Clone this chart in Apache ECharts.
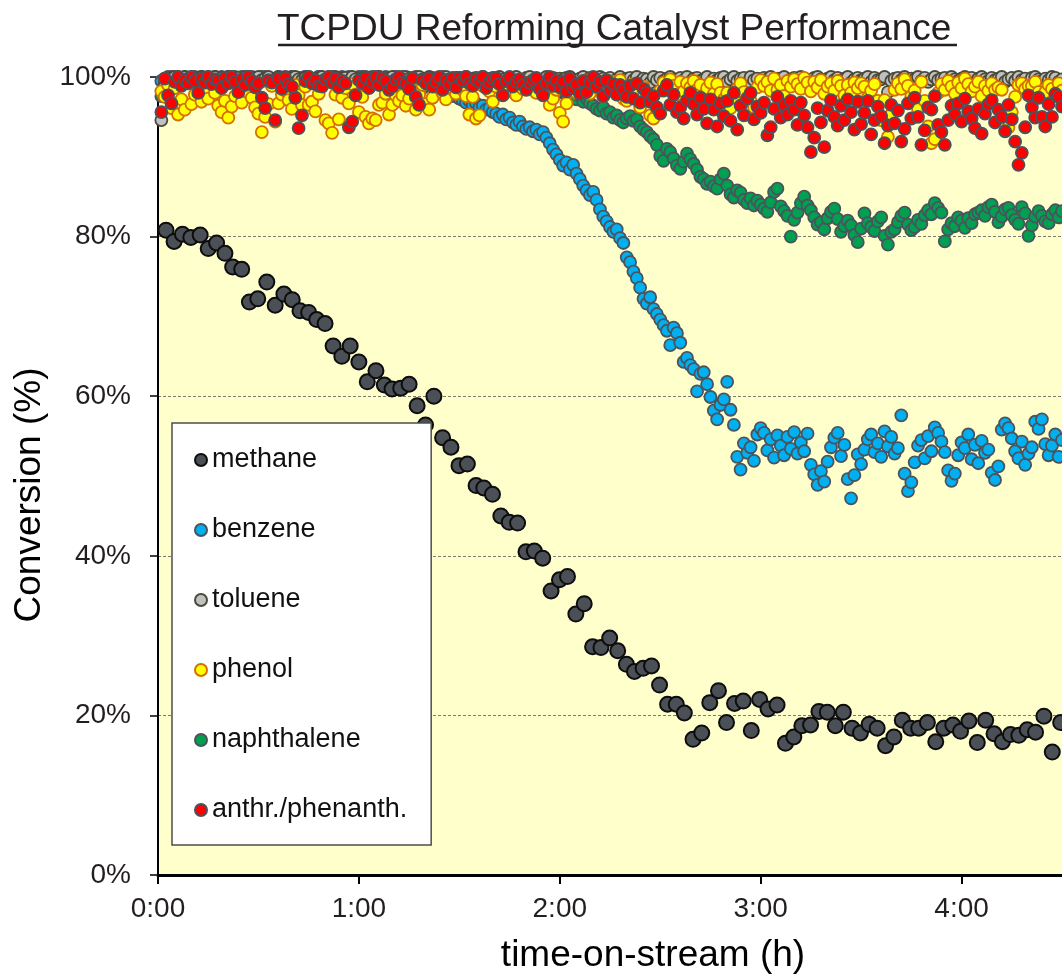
<!DOCTYPE html>
<html>
<head>
<meta charset="utf-8">
<script src="https://cdn.jsdelivr.net/npm/echarts@6/dist/echarts.min.js"></script>
<style>
html,body{margin:0;padding:0;background:#fff;}
#chart{width:1062px;height:980px;}
</style>
</head>
<body>
<div id="chart"></div>
<script>
// ---- DATA ----
const chartTitle = 'TCPDU Reforming Catalyst Performance';
const xAxisTitle = 'time-on-stream (h)';
const yAxisTitle = 'Conversion (%)';
const seriesNames = ['methane', 'benzene', 'toluene', 'phenol', 'naphthalene', 'anthr./phenanth.'];
const xTickMinutes = [0, 60, 120, 180, 240];

// methane (separate analyser): time in minutes, conversion in %
const methaneTime = [2.4,4.8,7.3,9.8,12.6,15.0,17.5,20.0,22.3,25.0,27.3,29.8,32.5,35.0,37.6,40.1,42.4,45.0,47.4,49.9,
  52.3,54.9,57.4,60.0,62.5,65.1,67.6,69.9,72.5,75.0,77.4,79.9,82.4,85.0,87.5,89.9,92.4,95.0,97.3,99.9,
  102.4,104.9,107.4,109.9,112.4,114.9,117.4,119.9,122.3,124.8,127.3,129.8,132.3,134.9,137.3,139.9,142.3,144.9,147.4,149.8,
  152.2,154.8,157.2,159.8,162.4,164.8,167.4,169.8,172.2,174.8,177.2,179.7,182.2,184.9,187.4,189.9,192.3,194.9,197.4,199.9,
  202.3,204.7,207.3,209.8,212.4,214.8,217.3,219.8,222.3,224.8,227.2,229.8,232.3,234.7,237.4,239.7,242.2,244.7,247.2,249.7,
  252.2,254.6,257.1,259.6,262.1,264.6,267.1,269.6];
const methaneValue = [80.8,79.4,80.3,79.9,80.2,78.5,79.2,77.9,76.2,75.9,71.8,72.2,74.3,71.4,72.8,72.1,70.7,70.5,69.6,69.1,
  66.3,65.0,66.3,64.3,61.8,63.2,61.4,60.9,61.0,61.5,58.8,56.4,60.0,54.8,53.6,51.3,51.5,48.8,48.5,47.7,
  45.0,44.2,44.1,40.5,40.6,39.7,35.6,37.0,37.4,32.7,34.0,28.6,28.5,29.7,28.1,26.4,25.5,25.9,26.2,23.8,
  21.4,21.4,20.3,17.0,17.8,21.6,23.1,19.1,21.5,21.8,18.1,22.0,20.8,21.3,16.5,17.3,18.7,18.8,20.5,20.4,
  18.7,20.4,18.4,17.8,18.9,18.4,16.2,17.3,19.4,18.4,18.4,19.1,16.7,18.4,18.8,18.0,19.3,16.6,19.4,17.7,
  16.7,17.6,17.5,18.2,17.9,19.9,15.4,19.1];

// tar compounds (GC): one sample per minute starting at minute 1
const gcSampleStartMin = 1;
const gcSampleStepMin = 1;

const benzene = [
  99.5,99.8,100,99.3,99.7,100,99.6,99.9,99.4,100,
  99.8,99.5,100,99.7,99.2,99.9,100,99.6,99.8,99.4,
  100,99.7,99.5,99.9,100,99.3,99.8,100,99.6,99.9,
  99.7,100,99.4,99.8,99.6,100,99.9,99.5,99.8,100,
  99.6,99.9,99.3,100,99.7,99.8,99.5,100,99.9,99.6,
  100,99.4,99.8,99.7,100,99.5,99.9,99.8,99.6,100,
  99.7,99.9,99.4,100,99.8,99.5,99.9,100,99.6,99.8,
  99.5,99.9,100,99.3,99.7,99.8,99.4,99.6,99.2,99.5,
  99.2,98.9,99.0,98.6,98.4,98.1,97.9,97.6,97.8,97.3,
  97.1,96.8,97.0,96.5,96.7,96.2,96.4,95.9,96.1,95.6,
  95.4,95.0,95.3,94.7,94.9,94.3,94.0,94.4,93.8,93.5,
  93.7,93.2,93.4,92.8,93.1,92.4,91.7,90.9,90.3,89.6,
  88.9,89.3,88.4,89.0,87.9,87.2,86.4,85.8,85.2,85.6,
  84.6,83.4,82.5,81.9,81.2,80.6,80.9,79.8,79.2,77.4,
  76.8,75.6,74.8,73.6,72.2,71.6,72.4,70.9,70.3,69.6,
  68.9,68.2,66.4,68.6,67.9,66.7,64.3,64.8,63.9,63.4,
  60.6,62.8,63.0,61.5,59.9,58.2,57.1,58.9,59.6,61.8,
  58.3,56.4,52.4,50.8,54.1,52.9,53.6,51.9,55.2,56.0,
  55.4,53.2,54.6,52.3,55.1,53.8,52.6,54.9,53.4,55.5,
  52.8,54.2,53.1,55.3,51.4,50.2,48.9,50.6,49.3,51.8,
  53.6,54.8,55.4,52.5,53.9,49.6,47.2,50.1,52.7,51.5,
  53.3,54.6,55.2,53.0,54.1,52.4,55.6,53.7,54.9,52.8,
  53.5,57.6,50.3,48.1,49.2,51.7,53.8,54.5,52.2,55.0,
  53.1,56.1,55.4,54.3,53.0,50.7,49.4,50.3,52.6,54.2,
  53.5,55.2,52.1,53.9,51.6,54.4,52.9,53.3,50.4,49.5,
  51.2,55.8,56.6,56.0,54.7,53.1,52.2,54.3,51.4,52.8,
  53.6,56.8,55.9,57.1,54.0,52.6,53.8,55.2,52.4,54.5];

const toluene = [
  94.6,98.9,99.6,99.9,100,99.7,99.5,100,99.8,99.4,
  99.9,99.6,100,99.3,99.8,99.7,100,99.5,99.9,99.6,
  100,99.4,99.8,99.9,99.5,100,99.7,99.3,99.9,100,
  99.6,99.8,100,99.2,99.7,99.9,99.5,100,99.8,99.4,
  100,99.7,99.6,99.9,100,99.3,99.8,99.5,100,99.7,
  99.9,99.4,100,99.6,99.8,99.9,99.5,100,99.7,99.3,
  99.8,100,99.6,99.9,99.4,100,99.7,99.8,99.5,100,
  99.6,99.9,99.3,100,99.8,99.5,99.9,100,99.7,99.4,
  100,99.8,99.6,99.9,99.5,100,99.7,99.3,99.9,99.8,
  99.6,100,99.4,99.7,99.9,99.5,100,99.8,99.6,99.9,
  99.3,100,99.7,99.5,99.9,99.8,100,99.4,99.6,99.9,
  100,99.5,99.8,99.2,99.7,100,99.6,99.9,99.4,99.8,
  99.7,99.9,100,99.3,99.6,99.8,100,99.5,99.9,99.7,
  99.4,100,99.8,99.6,99.9,99.2,99.7,100,99.5,99.8,
  99.9,99.6,100,99.4,99.8,99.7,99.3,100,99.6,99.9,
  99.5,99.8,100,99.7,99.2,99.9,99.6,100,99.4,99.8,
  99.9,99.5,99.7,100,99.3,99.8,99.6,99.9,100,99.4,
  99.7,100,99.5,99.8,99.9,99.3,100,99.6,99.8,99.5,
  99.9,99.7,100,99.4,99.8,99.6,100,99.2,99.7,99.9,
  99.5,100,99.8,99.6,99.3,99.9,100,99.7,99.4,99.8,
  100,99.6,99.9,99.5,99.8,100,99.3,99.7,99.9,99.6,
  99.8,100,99.4,99.9,99.6,99.7,100,98.1,99.5,99.8,
  99.9,99.6,100,99.3,99.8,99.7,100,99.5,99.9,99.4,
  99.7,100,99.6,99.8,99.9,99.4,100,99.7,99.5,99.8,
  100,99.6,99.9,99.3,99.8,100,99.7,99.5,99.9,99.6,
  99.8,100,99.4,99.7,99.9,99.5,100,99.6,99.8,99.3,
  99.9,100,99.7,99.5,99.8,99.6,100,99.9,99.4,99.7];

const phenol = [
  98.2,97.5,99.0,96.1,98.6,95.3,97.2,95.9,99.3,96.6,
  97.8,99.1,96.9,98.4,97.3,99.5,98.0,96.4,95.6,97.0,
  94.9,96.3,97.6,98.7,96.8,99.2,98.1,97.4,96.2,95.4,
  93.1,95.0,96.6,98.9,94.4,96.7,97.8,98.3,97.1,96.0,
  99.0,97.7,96.5,98.8,96.5,96.9,95.7,97.9,99.2,94.6,
  94.2,93.0,97.8,94.7,97.4,98.6,96.7,99.1,97.8,95.6,
  97.5,95.0,94.2,94.8,94.6,96.5,96.8,97.9,95.3,96.5,
  97.7,97.0,97.7,96.4,97.3,99.6,95.9,97.8,99.0,96.6,
  95.9,97.4,98.8,99.3,98.0,97.2,99.5,98.6,97.9,99.1,
  98.4,97.6,95.3,97.5,94.8,95.2,98.9,99.4,98.2,96.9,
  98.8,99.2,97.9,98.6,99.5,98.1,97.7,99.0,98.5,99.3,
  98.7,99.4,98.0,99.1,97.8,98.9,96.5,97.3,98.4,95.5,
  94.4,96.7,98.2,99.0,98.0,99.3,98.6,99.5,97.9,98.8,
  99.2,98.4,97.6,99.0,98.7,99.4,98.1,99.6,97.3,97.0,
  98.5,99.1,97.8,96.2,98.8,97.2,95.2,94.8,96.0,98.3,
  99.3,98.6,99.7,98.9,97.8,99.4,98.2,99.2,98.7,99.5,
  98.4,99.0,97.7,98.6,99.3,97.9,99.1,98.0,97.2,98.0,
  96.1,97.4,98.5,99.2,98.1,97.4,97.0,96.2,98.7,99.6,
  98.9,99.4,98.3,99.8,98.4,99.0,97.6,99.5,98.8,99.7,
  99.1,98.5,99.9,99.3,98.2,99.4,98.7,99.6,97.9,98.8,
  99.2,98.3,99.5,98.9,97.7,99.0,98.0,99.3,98.6,99.2,
  98.8,97.4,98.3,99.1,97.0,94.6,97.1,92.5,95.3,98.4,
  99.2,98.5,99.7,98.9,97.6,98.3,96.0,99.4,97.0,93.8,
  91.7,92.2,98.0,99.1,98.4,99.5,98.8,97.9,99.3,98.6,
  99.8,99.1,98.2,98.8,99.4,97.6,98.9,98.3,99.2,98.4,
  98.7,98.4,94.9,93.7,95.6,97.5,99.0,99.2,98.5,98.9,
  98.9,99.4,98.1,97.6,98.1,99.0,98.5,97.8,99.2,98.3];

const naphthalene = [
  97.6,99.2,99.8,100,99.5,99.9,99.7,100,99.4,99.8,
  100,99.6,99.9,99.3,100,99.7,99.5,99.9,100,99.6,
  99.8,99.4,100,99.7,99.9,99.6,100,99.3,99.8,99.5,
  100,99.7,99.9,99.4,99.8,100,99.6,99.9,99.5,100,
  99.7,99.3,99.9,100,99.6,99.8,99.4,100,99.7,99.9,
  99.5,100,99.8,99.6,99.9,99.3,100,99.7,99.8,99.5,
  100,99.6,99.9,99.4,99.8,100,99.5,99.7,99.9,99.6,
  100,99.4,99.8,99.7,99.9,99.5,100,99.6,98.6,99.8,
  99.5,99.9,99.2,99.7,100,99.4,99.8,99.6,99.3,99.9,
  99.6,99.1,99.5,99.8,99.2,99.7,99.4,99.0,99.6,99.3,
  99.1,99.5,98.9,99.3,98.7,99.2,98.8,99.0,98.5,98.9,
  98.6,99.0,98.4,98.8,98.3,98.7,98.2,98.5,97.9,98.3,
  98.1,97.8,97.5,97.9,97.2,97.6,96.9,97.3,96.7,96.4,
  96.0,95.8,96.2,95.4,95.6,94.9,95.2,94.6,94.3,94.8,
  95.1,94.5,94.7,93.8,93.4,93.1,92.6,92.2,91.5,90.1,
  89.5,91.0,90.6,89.8,88.9,88.5,89.4,90.4,89.7,89.1,
  88.4,87.5,87.2,86.6,86.9,86.3,86.0,87.2,87.9,86.4,
  85.3,84.9,85.8,85.5,84.6,84.2,84.8,83.9,84.5,84.0,
  83.5,83.1,84.3,85.6,86.0,83.8,83.2,82.6,80.0,82.1,
  83.0,84.2,85.0,83.9,83.3,82.4,81.5,81.8,80.9,82.3,
  83.1,83.5,82.2,80.6,81.3,82.0,81.4,80.2,79.3,81.0,
  82.9,81.7,81.2,80.7,81.9,82.4,80.1,79.0,80.6,80.9,
  81.8,82.6,83.0,81.5,80.8,81.2,82.1,81.6,82.7,83.3,
  82.8,84.2,83.6,83.0,79.4,80.9,81.7,81.3,82.4,82.0,
  81.1,82.3,81.7,82.8,83.0,83.3,82.6,83.7,84.0,83.1,
  81.8,82.5,83.4,83.6,82.7,82.1,81.6,83.7,82.9,80.1,
  81.4,82.5,83.2,82.6,81.9,81.7,82.8,83.3,82.4,83.2];

const anthrPhenanth = [
  95.6,99.8,97.7,96.7,99.4,100,98.9,99.6,99.2,100,
  99.5,98.0,99.8,99.3,100,99.1,99.7,99.6,98.6,99.9,
  99.2,100,99.4,98.1,99.7,99.0,100,99.5,98.7,99.2,
  97.4,96.1,99.6,99.3,94.6,99.8,98.5,99.9,99.1,98.8,
  97.4,93.6,95.2,99.5,100,99.2,99.6,98.9,98.8,99.7,
  100,99.3,99.8,98.7,99.5,99.2,93.7,94.4,97.7,99.6,
  99.2,99.9,98.6,99.4,100,99.0,99.9,99.5,98.4,98.8,
  99.7,100,99.3,99.1,98.5,99.9,97.5,96.5,99.6,99.2,
  99.8,98.8,99.4,100,98.4,99.6,99.1,99.9,98.7,99.9,
  99.5,100,99.2,98.9,99.7,99.4,100,98.6,99.3,99.8,
  99.9,99.1,97.7,99.5,100,98.8,99.4,99.7,99.0,98.4,
  99.3,99.6,99.9,98.5,97.7,99.2,100,98.9,99.5,98.7,
  99.4,98.2,99.8,98.6,99.1,97.9,99.5,98.1,99.3,100,
  98.8,99.4,97.6,99.6,98.3,99.1,97.8,99.0,98.4,97.5,
  98.9,97.3,99.2,96.8,98.5,98.0,96.9,97.6,96.2,95.4,
  98.3,99.0,96.5,97.8,95.6,96.2,94.8,97.1,98.0,96.6,
  95.3,97.4,96.0,94.2,97.2,95.9,93.8,96.7,95.1,97.0,
  94.5,98.0,93.4,96.4,95.2,97.3,98.0,94.7,96.3,95.5,
  96.8,92.7,93.7,96.0,97.5,94.9,96.5,95.3,97.0,95.9,
  94.0,96.8,95.2,93.7,90.6,92.4,96.1,94.3,91.2,95.8,
  97.1,95.0,93.9,96.4,94.6,97.2,95.6,93.4,96.9,94.1,
  95.5,97.0,92.8,94.6,96.3,95.1,91.7,93.9,96.5,94.2,
  95.8,91.9,93.5,96.7,94.8,97.4,95.0,91.5,93.3,96.2,
  95.9,97.6,94.0,93.1,91.5,94.6,96.4,95.3,96.7,94.4,
  97.3,95.7,94.8,93.6,96.0,92.9,95.4,96.6,97.1,94.3,
  95.9,95.0,93.2,96.5,94.7,91.9,89.0,90.5,93.7,97.7,
  96.2,94.9,97.4,95.0,93.8,96.6,95.0,97.9,97.5,96.3];

// ---- BUILD ----
function gcPairs(values) {
  return values.map((v, i) => [gcSampleStartMin + i * gcSampleStepMin, v]);
}
const methanePairs = methaneTime.map((t, i) => [t, methaneValue[i]]);

const FONT = "'Liberation Sans', Arial, sans-serif";
const TXT = '#231f20';
const gcBorder = '#4b535d';

function gcSeries(name, data, fill, border) {
  return {
    name: name, type: 'scatter', data: gcPairs(data), symbol: 'circle', symbolSize: 12, clip: false,
    itemStyle: { color: fill, borderColor: border, borderWidth: 1.8, opacity: 1 }
  };
}

const chart = echarts.init(document.getElementById('chart'), null, { renderer: 'canvas' });
chart.setOption({
  animation: false,
  backgroundColor: '#ffffff',
  title: {
    text: chartTitle, left: 277, top: 11, padding: 0,
    textStyle: { fontFamily: FONT, fontSize: 37, fontWeight: 'normal', color: TXT }
  },
  graphic: [{
    type: 'line', shape: { x1: 278, y1: 45, x2: 957, y2: 45 },
    style: { stroke: TXT, lineWidth: 2.5 }, z: 10
  }],
  grid: { left: 158, right: 0, top: 77, bottom: 105, show: true, backgroundColor: '#ffffcc', borderWidth: 0 },
  legend: {
    orient: 'vertical', left: 172, top: 423,
    data: seriesNames,
    backgroundColor: '#ffffff', borderColor: '#4d4d4d', borderWidth: 1.5,
    padding: [22, 24, 20, 22], itemGap: 40, itemWidth: 12, itemHeight: 12,
    textStyle: { fontFamily: FONT, fontSize: 27, color: '#111', lineHeight: 30 },
    selectedMode: false
  },
  xAxis: {
    type: 'value', min: 0, max: 270, interval: 60,
    name: xAxisTitle, nameLocation: 'middle', nameGap: 62,
    nameTextStyle: { fontFamily: FONT, fontSize: 37, color: '#000', padding: [0, 0, 0, 86] },
    axisLine: { show: true, onZero: false, lineStyle: { color: '#000', width: 3 } },
    axisTick: { show: true, length: 9, lineStyle: { color: '#000', width: 2 } },
    axisLabel: {
      fontFamily: FONT, fontSize: 28, color: TXT, margin: 20, showMaxLabel: false,
      formatter: function (v) {
        if (xTickMinutes.indexOf(v) < 0) return '';
        const h = Math.floor(v / 60), m = v % 60;
        return h + ':' + (m < 10 ? '0' + m : m);
      }
    },
    splitLine: { show: false }
  },
  yAxis: {
    type: 'value', min: 0, max: 100, interval: 20,
    name: yAxisTitle, nameLocation: 'middle', nameGap: 103,
    nameTextStyle: { fontFamily: FONT, fontSize: 37, color: '#000', padding: [0, 38, 0, 0] },
    axisLine: { show: true, lineStyle: { color: '#000', width: 2 } },
    axisTick: { show: true, length: 8, lineStyle: { color: '#000', width: 1.5 } },
    axisLabel: { fontFamily: FONT, fontSize: 28, color: TXT, margin: 27, formatter: '{value}%' },
    splitLine: { show: true, lineStyle: { color: '#7a7a70', width: 1, type: [3, 2] } }
  },
  series: [
    {
      name: 'methane', type: 'scatter', data: methanePairs, symbol: 'circle', symbolSize: 15, clip: false,
      itemStyle: { color: '#4b4f56', borderColor: '#0d0d0d', borderWidth: 2, opacity: 1 }
    },
    gcSeries('benzene', benzene, '#00b0f0', gcBorder),
    gcSeries('naphthalene', naphthalene, '#00a050', gcBorder),
    gcSeries('toluene', toluene, '#c0c0c0', '#4a4a38'),
    gcSeries('phenol', phenol, '#ffff00', '#d46f00'),
    gcSeries('anthr./phenanth.', anthrPhenanth, '#ff0000', gcBorder)
  ]
});
</script>
</body>
</html>
